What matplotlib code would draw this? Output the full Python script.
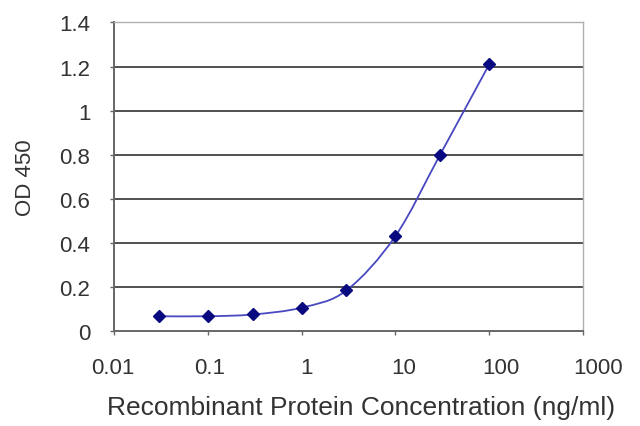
import matplotlib
matplotlib.use("Agg")
import matplotlib.pyplot as plt
import matplotlib.transforms as mtransforms
import numpy as np
from matplotlib.path import Path
from matplotlib.patches import PathPatch

# ELISA standard curve, OD450 vs protein concentration
conc_ng_ml = [0.03, 0.1, 0.3, 1, 3, 10, 30, 100]
od450 = [0.066, 0.066, 0.074, 0.105, 0.183, 0.430, 0.800, 1.210]

x_ticks = [0.01, 0.1, 1, 10, 100, 1000]
x_tick_labels = ["0.01", "0.1", "1", "10", "100", "1000"]
y_ticks = [0, 0.2, 0.4, 0.6, 0.8, 1.0, 1.2, 1.4]
y_tick_labels = ["0", "0.2", "0.4", "0.6", "0.8", "1", "1.2", "1.4"]

LINE_COLOR = "#4848c0"
MARKER_COLOR = "#0a0a80"
TEXT_COLOR = "#333333"


def smooth_path(xs, ys):
    """Excel-like smoothed line as cubic Bezier segments in log-x space."""
    lx = np.log10(np.asarray(xs, dtype=float))
    y = np.asarray(ys, dtype=float)
    n = len(lx)
    verts = [(xs[0], ys[0])]
    codes = [Path.MOVETO]
    for i in range(n - 1):
        p0 = max(i - 1, 0)
        p3 = min(i + 2, n - 1)
        c1x = lx[i] + (lx[i + 1] - lx[p0]) / 6
        c1y = y[i] + (y[i + 1] - y[p0]) / 6
        c2x = lx[i + 1] - (lx[p3] - lx[i]) / 6
        c2y = y[i + 1] - (y[p3] - y[i]) / 6
        verts += [(10**c1x, c1y), (10**c2x, c2y), (xs[i + 1], ys[i + 1])]
        codes += [Path.CURVE4] * 3
    return Path(verts, codes)


plt.rcParams["font.family"] = ["Liberation Sans", "DejaVu Sans"]

fig = plt.figure(figsize=(6.4, 4.27), dpi=100)
ax = fig.add_axes([0.178, 0.223, 0.733, 0.722])

ax.set_xscale("log")
ax.set_xlim(0.01, 1000)
ax.set_ylim(0, 1.4)

for yv in y_ticks[1:]:
    ax.axhline(yv, color="#505050", lw=1.4, zorder=1)

ax.add_patch(PathPatch(smooth_path(conc_ng_ml, od450), fill=False,
                       edgecolor=LINE_COLOR, lw=1.3, zorder=3))
ax.plot(conc_ng_ml, od450, linestyle="none", marker="D", ms=6.5,
        color=MARKER_COLOR, zorder=4)

ax.set_xticks(x_ticks)
ax.set_xticklabels(x_tick_labels)
ax.xaxis.set_minor_locator(matplotlib.ticker.NullLocator())
ax.set_yticks(y_ticks)
ax.set_yticklabels(y_tick_labels)

for side in ["left", "bottom"]:
    ax.spines[side].set_color("#666666")
    ax.spines[side].set_linewidth(1.4)
for side in ["right", "top"]:
    ax.spines[side].set_color("#b0b0b0")
    ax.spines[side].set_linewidth(1.0)

ax.tick_params(axis="both", direction="out", length=3, width=1,
               color="#666666", labelsize=16, labelcolor=TEXT_COLOR)
ax.tick_params(axis="y", pad=14)
ax.tick_params(axis="x", pad=16)

# the x labels in the original drift right of their ticks a little
for i, lab in enumerate(ax.get_xticklabels()):
    shift = mtransforms.ScaledTranslation((3.2 * i - 1) / 100, 0, fig.dpi_scale_trans)
    lab.set_transform(lab.get_transform() + shift)

ax.set_xlabel("Recombinant Protein Concentration (ng/ml)", fontsize=19,
              color=TEXT_COLOR, labelpad=12)
ax.xaxis.label.set_x(0.527)
ax.set_ylabel("OD 450", fontsize=16, color=TEXT_COLOR, labelpad=17)

fig.savefig("out.png", dpi=100)
plt.close(fig)
